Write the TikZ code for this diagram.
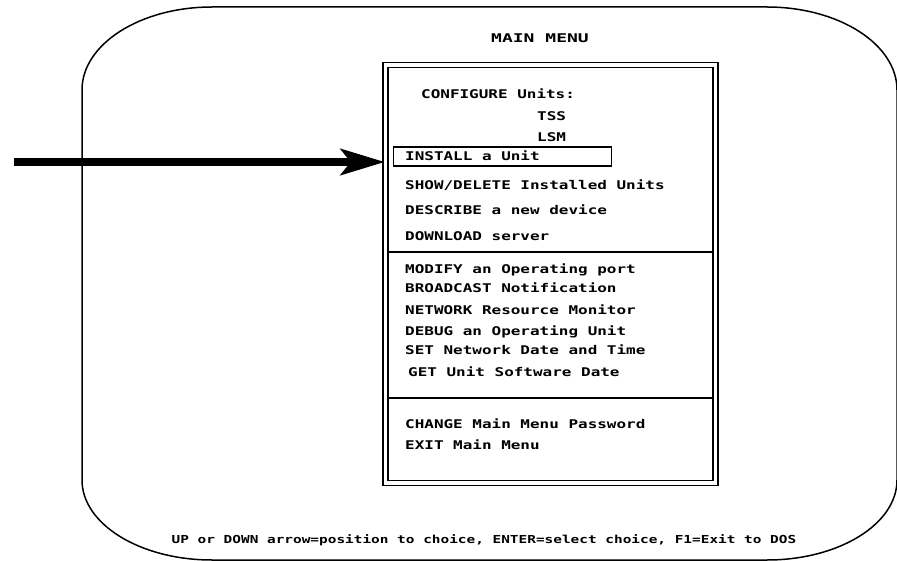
\documentclass[tikz,border=0pt]{standalone}
\usepackage{fontspec}
\newfontfamily\menufont[FakeStretch=1.33]{DejaVu Sans Mono}
\newfontfamily\titlefont[FakeStretch=1.5]{DejaVu Sans Mono}
\newfontfamily\footfont[FakeStretch=1.31]{DejaVu Sans Mono}
\usetikzlibrary{arrows.meta}

\begin{document}
\begin{tikzpicture}[x=1pt, y=-1pt]

% Define styles
\tikzstyle{frame} = [line width=1.5pt, line join=round]
\tikzstyle{menubox} = [rectangle, draw, line width=1.4pt, double, double distance=3.6pt, minimum width=330pt, minimum height=418pt, inner sep=0pt]
\tikzstyle{item} = [anchor=base west, inner sep=0pt, font=\menufont\bfseries\fontsize{12}{14}\selectfont]
\tikzstyle{selbox} = [rectangle, draw, line width=1.4pt, anchor=west, minimum width=218pt, minimum height=19pt, inner sep=0pt]
\tikzstyle{divider} = [line width=1.4pt]
\tikzstyle{pointer} = [line width=8pt, -{Stealth[length=44pt, width=26pt, inset=10pt]}]

\useasboundingbox (0,0) rectangle (897,561);

% Outer frame
\draw [frame] (212,7) -- (767,7)
  arc [start angle=90, end angle=0, x radius=130pt, y radius=83pt] -- (897,480)
  arc [start angle=0, end angle=-90, x radius=130pt, y radius=80pt] -- (212,560)
  arc [start angle=270, end angle=180, x radius=130pt, y radius=80pt] -- (82,90)
  arc [start angle=180, end angle=90, x radius=130pt, y radius=83pt];

% Nodes
\node (title) [anchor=base, inner sep=0pt, font=\titlefont\bfseries\fontsize{12}{14}\selectfont] at (540,43) {MAIN MENU};
\node (menu) [menubox] at (550.5,274.25) {};
\node (configure) [item] at (421,98.4) {CONFIGURE Units:};
\node (tss) [item] at (537,120.4) {TSS};
\node (lsm) [item] at (537,141.4) {LSM};
\node (selbar) [selbox] at (393,156.5) {};
\node (install) [item] at (405,161) {INSTALL a Unit};
\node (showdel) [item] at (405,189.4) {SHOW/DELETE Installed Units};
\node (describe) [item] at (405,214.4) {DESCRIBE a new device};
\node (download) [item] at (405,240.4) {DOWNLOAD server};
\node (modify) [item] at (405,273.4) {MODIFY an Operating port};
\node (broadcast) [item] at (405,292.4) {BROADCAST Notification};
\node (network) [item] at (405,314.4) {NETWORK Resource Monitor};
\node (debug) [item] at (405,335.4) {DEBUG an Operating Unit};
\node (setdate) [item] at (405,354.4) {SET Network Date and Time};
\node (getdate) [item] at (408,376.4) {GET Unit Software Date};
\node (change) [item] at (405,428.4) {CHANGE Main Menu Password};
\node (exitmenu) [item] at (405,449.4) {EXIT Main Menu};
\node (footer) [anchor=base, inner sep=0pt, font=\footfont\bfseries\fontsize{11}{13}\selectfont] at (484,543) {UP or DOWN arrow=position to choice, ENTER=select choice, F1=Exit to DOS};

% Dividers
\draw [divider] (388,252) -- (713,252);
\draw [divider, line width=2pt] (388,397.5) -- (713,397.5);

% Arrow
\coordinate (tail) at (14,162);
\draw [pointer] (tail) -- (tail -| menu.west);

\end{tikzpicture}
\end{document}
